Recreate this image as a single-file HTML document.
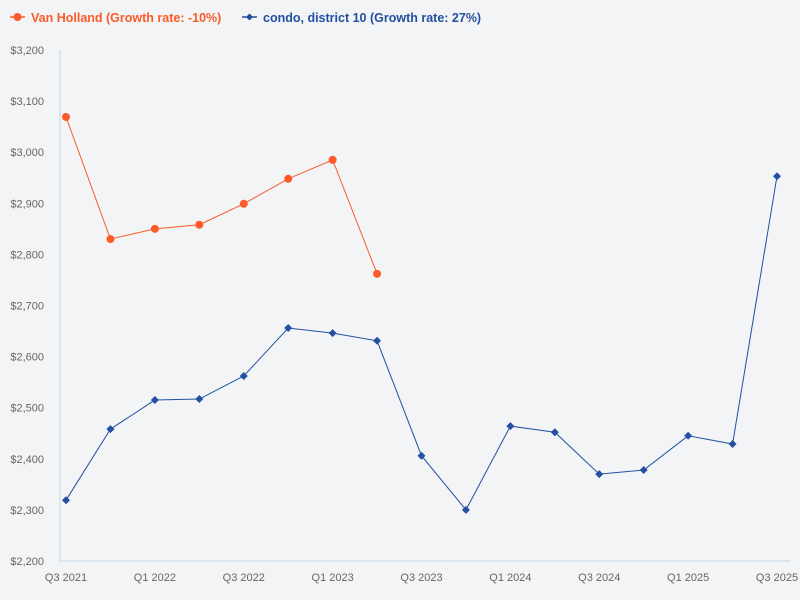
<!DOCTYPE html>
<html><head><meta charset="utf-8"><style>
body{margin:0;background:#f2f4f6;font-family:"Liberation Sans",sans-serif}
svg{display:block}
</style></head><body>
<svg id="c" width="800" height="600">
<g>
<g>
<line x1="10" y1="17" x2="25" y2="17" stroke="#fc5a28" stroke-width="1.5"/><circle cx="17.5" cy="17" r="4" fill="#fc5a28"/>
<text x="31" y="22" fill="#fc5a28" font-size="12.5" font-weight="bold">Van Holland (Growth rate: -10%)</text></g>
<g>
<line x1="242" y1="17" x2="257" y2="17" stroke="#2350a0" stroke-width="1.5"/><path d="M249.5 13.5L253 17L249.5 20.5L246 17Z" fill="#2350a0"/>
<text x="263" y="22" fill="#2350a0" font-size="12.5" font-weight="bold">condo, district 10 (Growth rate: 27%)</text></g>
</g>
</svg>
<script>
const categories=["Q3 2021","Q4 2021","Q1 2022","Q2 2022","Q3 2022","Q4 2022","Q1 2023","Q2 2023","Q3 2023","Q4 2023","Q1 2024","Q2 2024","Q3 2024","Q4 2024","Q1 2025","Q2 2025","Q3 2025"];
const vanHolland=[3069,2830,2850,2858,2899,2948,2985,2762];
const condo=[2319,2458,2515,2517,2562,2656,2646,2631,2406,2300,2464,2452,2370,2378,2445,2429,2953];
const yTicks=[2200,2300,2400,2500,2600,2700,2800,2900,3000,3100,3200];
const svg=document.getElementById('c');const NS='http://www.w3.org/2000/svg';
const x0=66,x1=777,yMin=2200,yMax=3200,yTop=50,yBot=561;
const xs=i=>x0+i*(x1-x0)/(categories.length-1);
const ys=v=>yBot-(v-yMin)/(yMax-yMin)*(yBot-yTop);
function el(t,a){const e=document.createElementNS(NS,t);for(const k in a)e.setAttribute(k,a[k]);svg.appendChild(e);return e;}
const ax=el('path',{d:`M60 ${yTop}V${yBot}H790`,stroke:'#c5d3e8',fill:'none','stroke-width':1});


yTicks.forEach(v=>{const t=el('text',{x:44,y:ys(v)+4,'text-anchor':'end','font-size':11,fill:'#666'});t.textContent='$'+v.toLocaleString('en-US');

});
categories.forEach((c,i)=>{if(i%2)return;const t=el('text',{x:xs(i),y:581,'text-anchor':'middle','font-size':11,fill:'#666'});t.textContent=c;

});
function series(data,color,name,shape){
const l=el('polyline',{points:data.map((v,i)=>xs(i)+','+ys(v)).join(' '),fill:'none',stroke:color,'stroke-width':1});


data.forEach((v,i)=>{const x=xs(i),y=ys(v);let m;
if(shape==='c')m=el('circle',{cx:x,cy:y,r:4,fill:color});
else m=el('path',{d:`M${x} ${y-4}L${x+4} ${y}L${x} ${y+4}L${x-4} ${y}Z`,fill:color});

});}
series(vanHolland,'#fc5a28','van-holland','c');
series(condo,'#2350a0','condo','d');
</script>
</body></html>
